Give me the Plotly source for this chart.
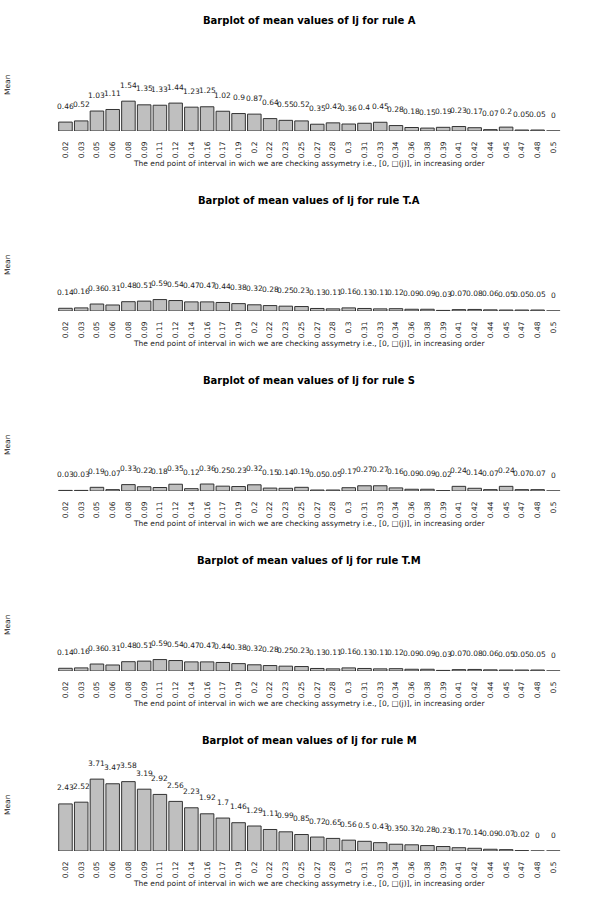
import plotly.graph_objects as go

categories = ["0.02", "0.03", "0.05", "0.06", "0.08", "0.09", "0.11", "0.12", "0.14", "0.16",
              "0.17", "0.19", "0.2", "0.22", "0.23", "0.25", "0.27", "0.28", "0.3", "0.31",
              "0.33", "0.34", "0.36", "0.38", "0.39", "0.41", "0.42", "0.44", "0.45", "0.47",
              "0.48", "0.5"]

rule_A = [0.46, 0.52, 1.03, 1.11, 1.54, 1.35, 1.33, 1.44, 1.23, 1.25, 1.02, 0.9, 0.87, 0.64,
          0.55, 0.52, 0.35, 0.42, 0.36, 0.4, 0.45, 0.28, 0.18, 0.15, 0.19, 0.23, 0.17, 0.07,
          0.2, 0.05, 0.05, 0]
rule_TA = [0.14, 0.16, 0.36, 0.31, 0.48, 0.51, 0.59, 0.54, 0.47, 0.47, 0.44, 0.38, 0.32, 0.28,
           0.25, 0.23, 0.13, 0.11, 0.16, 0.13, 0.11, 0.12, 0.09, 0.09, 0.03, 0.07, 0.08, 0.06,
           0.05, 0.05, 0.05, 0]
rule_S = [0.03, 0.03, 0.19, 0.07, 0.33, 0.22, 0.18, 0.35, 0.12, 0.36, 0.25, 0.23, 0.32, 0.15,
          0.14, 0.19, 0.05, 0.05, 0.17, 0.27, 0.27, 0.16, 0.09, 0.09, 0.02, 0.24, 0.14, 0.07,
          0.24, 0.07, 0.07, 0]
rule_TM = [0.14, 0.16, 0.36, 0.31, 0.48, 0.51, 0.59, 0.54, 0.47, 0.47, 0.44, 0.38, 0.32, 0.28,
           0.25, 0.23, 0.13, 0.11, 0.16, 0.13, 0.11, 0.12, 0.09, 0.09, 0.03, 0.07, 0.08, 0.06,
           0.05, 0.05, 0.05, 0]
rule_M = [2.43, 2.52, 3.71, 3.47, 3.58, 3.19, 2.92, 2.56, 2.23, 1.92, 1.7, 1.46, 1.29, 1.11,
          0.99, 0.85, 0.72, 0.65, 0.56, 0.5, 0.43, 0.35, 0.32, 0.28, 0.23, 0.17, 0.14, 0.09,
          0.07, 0.02, 0, 0]

rule_names = ["A", "T.A", "S", "T.M", "M"]
series = [rule_A, rule_TA, rule_S, rule_TM, rule_M]

x_title = "The end point of interval in wich we are checking assymetry i.e., [0, \u25a1(j)], in increasing order"

W, H = 600, 900
FONT = "DejaVu Sans"
fig = go.Figure()

x_dom = [57.6 / W, 561.2 / W]
row_h = 180

annotations = []
for k, (name, vals) in enumerate(zip(rule_names, series)):
    bottom_px = 131 + row_h * k
    top_px = 38 + row_h * k
    xa = "x" if k == 0 else f"x{k+1}"
    ya = "y" if k == 0 else f"y{k+1}"
    fig.add_trace(go.Bar(
        x=categories, y=vals, xaxis=xa, yaxis=ya,
        marker=dict(color="#bfbfbf", line=dict(color="#333333", width=1)),
        showlegend=False, hoverinfo="x+y",
    ))
    xkey = "xaxis" if k == 0 else f"xaxis{k+1}"
    ykey = "yaxis" if k == 0 else f"yaxis{k+1}"
    fig.update_layout(**{
        xkey: dict(domain=x_dom, anchor=ya, type="category", tickangle=-90,
                   range=[-0.5, len(categories) - 0.5],
                   showgrid=False, zeroline=False, showline=False, ticks="",
                   ticklabelstandoff=8,
                   tickfont=dict(family=FONT, size=7.5, color="#222222")),
        ykey: dict(domain=[1 - bottom_px / H, 1 - top_px / H], anchor=xa, range=[0, 4.8],
                   showgrid=False, zeroline=False, showline=False, showticklabels=False,
                   ticks=""),
    })
    for i, v in enumerate(vals):
        annotations.append(dict(x=i, y=v, xref=xa, yref=ya, text=f"{v:g}", showarrow=False,
                                xanchor="center", yanchor="middle", yshift=16,
                                font=dict(family=FONT, size=7.5, color="#222222")))
    annotations.append(dict(x=(x_dom[0] + x_dom[1]) / 2, y=1 - (20 + row_h * k) / H,
                            xref="paper", yref="paper",
                            text=f"<b>Barplot of mean values of lj for rule {name}</b>",
                            showarrow=False, xanchor="center", yanchor="middle",
                            font=dict(family=FONT, size=10, color="#000000")))
    annotations.append(dict(x=7 / W, y=1 - (85 + row_h * k) / H, xref="paper", yref="paper",
                            text="Mean", textangle=-90, showarrow=False,
                            xanchor="center", yanchor="middle",
                            font=dict(family=FONT, size=7.5, color="#222222")))
    annotations.append(dict(x=(x_dom[0] + x_dom[1]) / 2, y=1 - (163 + row_h * k) / H,
                            xref="paper", yref="paper", text=x_title, showarrow=False,
                            xanchor="center", yanchor="middle",
                            font=dict(family=FONT, size=7.5, color="#222222")))

fig.update_layout(
    width=W, height=H, margin=dict(l=0, r=0, t=0, b=0),
    paper_bgcolor="white", plot_bgcolor="white",
    bargap=0.14, annotations=annotations,
)

fig.write_html("out.html")
